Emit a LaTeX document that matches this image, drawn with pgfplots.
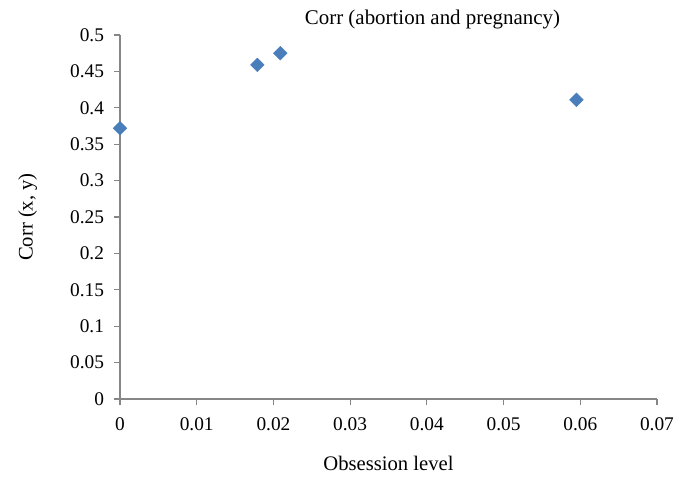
\documentclass[border=0pt]{standalone}
\usepackage{fontspec}
\setmainfont{Liberation Serif}
\usepackage{pgfplots}
\pgfplotsset{compat=1.18}
\definecolor{mk}{HTML}{4A7EBB}
\definecolor{ax}{HTML}{868686}
\begin{document}
\begin{tikzpicture}
\path[use as bounding box] (-90pt,-60pt) rectangle (415.5pt,299.25pt);
\begin{axis}[
  at={(0,0)}, anchor=south west,
  scale only axis, width=402.75pt, height=273pt,
  xmin=0, xmax=0.07, ymin=0, ymax=0.5,
  xtick={0,0.01,...,0.07}, ytick={0,0.05,...,0.5},
  scaled ticks=false,
  axis x line=bottom, axis y line=left,
  axis line style={ax, -, line width=0.8pt},
  tick style={ax, line width=0.8pt},
  tick align=outside, major tick length=4.5pt,
  /pgf/number format/assume math mode=true,
  /pgf/number format/fixed,
  /pgf/number format/precision=3,
  xticklabel style={font=\fontsize{14.5}{16}\selectfont, yshift=-6pt},
  yticklabel style={font=\fontsize{14.5}{16}\selectfont, xshift=-4pt},
  title={Corr (abortion and pregnancy)},
  title style={font=\fontsize{15.7}{18}\selectfont, yshift=-5pt, xshift=33pt},
  xlabel={Obsession level},
  ylabel={Corr (x, y)},
  xlabel style={font=\fontsize{15.5}{18}\selectfont, yshift=-12pt},
  ylabel style={font=\fontsize{15.5}{18}\selectfont, yshift=18pt},
  clip=false,
]
\addplot[only marks, mark=square*, mark size=3.6pt, mark options={rotate=45, fill=mk, draw=mk}]
coordinates {(0,0.372) (0.0179,0.459) (0.0209,0.475) (0.0595,0.411)};
\end{axis}
\end{tikzpicture}
\end{document}
